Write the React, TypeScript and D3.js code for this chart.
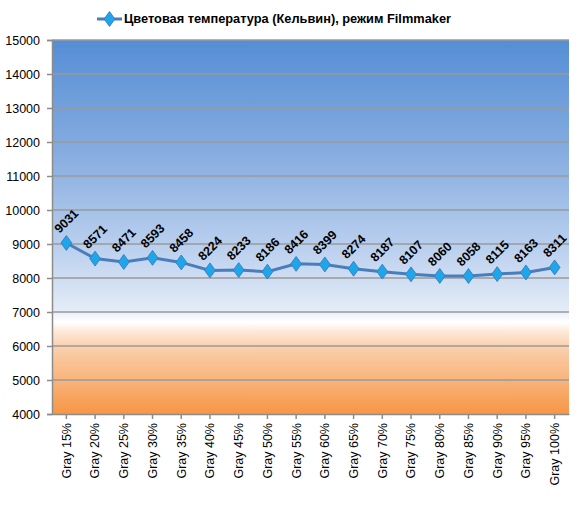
import React, {useEffect, useRef} from "react";
import * as d3 from "d3";

const categories = ["Gray 15%", "Gray 20%", "Gray 25%", "Gray 30%", "Gray 35%", "Gray 40%", "Gray 45%", "Gray 50%", "Gray 55%",
    "Gray 60%", "Gray 65%", "Gray 70%", "Gray 75%", "Gray 80%", "Gray 85%", "Gray 90%", "Gray 95%", "Gray 100%"]
const kelvin = [9031, 8571, 8471, 8593, 8458, 8224, 8233, 8186, 8416, 8399, 8274, 8187, 8107, 8060, 8058, 8115, 8163, 8311]
const yTicks = [4000, 5000, 6000, 7000, 8000, 9000, 10000, 11000, 12000, 13000, 14000, 15000]
const seriesName = "Цветовая температура (Кельвин), режим Filmmaker"

const W = 587
const H = 505
const FONT = "'Liberation Sans', Arial, sans-serif"

const App = () => {
    const svgRef = useRef(null)

    useEffect(() => {
        const svg = d3.select(svgRef.current)
        svg.selectAll("*").remove()

        const left = 52, right = 569, top = 40, bottom = 414

        const x = d3.scaleBand().domain(categories).range([left, right])
        const y = d3.scaleLinear().domain([4000, 15000]).range([bottom, top])
        const cx = (c: string) => (x(c) as number) + x.bandwidth() / 2

        // фон области построения - градиент синий -> белый -> оранжевый
        const defs = svg.append("defs")
        const grad = defs.append("linearGradient").attr("id", "bg")
            .attr("x1", 0).attr("y1", 0).attr("x2", 0).attr("y2", 1)
        const stops: [number, string][] = [
            [0, "#558ed5"], [0.3, "#86acdf"], [0.55, "#b9cfee"], [0.72, "#e3ebf7"],
            [0.755, "#ffffff"], [0.78, "#fde8d7"], [0.82, "#fad0ae"], [1, "#f79646"]]
        stops.forEach(s => grad.append("stop").attr("offset", s[0]).attr("stop-color", s[1]))

        svg.append("rect")
            .attr("x", left).attr("y", top).attr("width", right - left).attr("height", bottom - top)
            .attr("fill", "url(#bg)")

        // сетка
        svg.append("g").selectAll("line").data(yTicks.filter(t => t > 4000)).join("line")
            .attr("x1", left).attr("x2", right)
            .attr("y1", d => y(d)).attr("y2", d => y(d))
            .attr("stroke", "#9a9a9a").attr("stroke-width", 1.5)

        // ось Y
        const yAxis = d3.axisLeft(y).tickValues(yTicks).tickSize(5).tickPadding(7).tickFormat(d => String(d))
        const gy = svg.append("g").attr("transform", `translate(${left},0)`).call(yAxis)
        gy.select(".domain").attr("stroke", "#8c8c8c").attr("stroke-width", 1.5)
        gy.selectAll(".tick line").attr("stroke", "#8c8c8c").attr("stroke-width", 1.5)
        gy.selectAll(".tick text").attr("font-family", FONT).attr("font-size", 12.5).attr("fill", "#000")

        // ось X
        const xAxis = d3.axisBottom(x).tickSize(5).tickSizeOuter(0).tickPadding(0)
        const gx = svg.append("g").attr("transform", `translate(0,${bottom})`).call(xAxis)
        gx.select(".domain").attr("stroke", "#8c8c8c").attr("stroke-width", 1.5)
        gx.selectAll(".tick line").attr("stroke", "#8c8c8c").attr("stroke-width", 1.5)
        gx.selectAll(".tick text")
            .attr("font-family", FONT).attr("font-size", 12.5).attr("fill", "#000")
            .attr("text-anchor", "end").attr("dy", "0.35em")
            .attr("transform", "translate(0,9) rotate(-90)")
            .attr("y", 0)

        // линия
        const line = d3.line<number>()
            .x((_, i) => cx(categories[i]))
            .y(v => y(v))
        svg.append("path").datum(kelvin)
            .attr("d", line)
            .attr("fill", "none").attr("stroke", "#4a7ebb").attr("stroke-width", 3)

        const diamond = d3.symbol().type(d3.symbolDiamond).size(64)
        svg.append("g").selectAll("path").data(kelvin).join("path")
            .attr("d", diamond)
            .attr("transform", (v, i) => `translate(${cx(categories[i])},${y(v)}) scale(1.25,1)`)
            .attr("fill", "#1ea7e8").attr("stroke", "#3b78c0").attr("stroke-width", 0.8)

        // подписи значений
        svg.append("g").selectAll("text").data(kelvin).join("text")
            .attr("transform", (v, i) => `translate(${cx(categories[i])},${y(v) - 22}) rotate(-45)`)
            .attr("text-anchor", "middle").attr("dy", "0.35em")
            .attr("font-family", FONT).attr("font-weight", "bold").attr("font-size", 12.5)
            .attr("fill", "#000")
            .text(v => String(v))

        // легенда
        const lg = svg.append("g").attr("transform", "translate(97,19)")
        lg.append("line").attr("x1", 0).attr("x2", 25).attr("y1", 0).attr("y2", 0)
            .attr("stroke", "#4a7ebb").attr("stroke-width", 3)
        lg.append("path").attr("d", diamond).attr("transform", "translate(12.5,0) scale(1.25,1)")
            .attr("fill", "#1ea7e8").attr("stroke", "#3b78c0").attr("stroke-width", 0.8)
        lg.append("text").attr("x", 27).attr("dy", "0.35em")
            .attr("font-family", FONT).attr("font-weight", "bold").attr("font-size", 12.8)
            .attr("fill", "#000")
            .text(seriesName)
    }, [])

    return (
        <svg ref={svgRef} width={W} height={H} style={{display: "block", position: "absolute", left: 0, top: 0, background: "#fff"}}/>
    );
};

export default App;
